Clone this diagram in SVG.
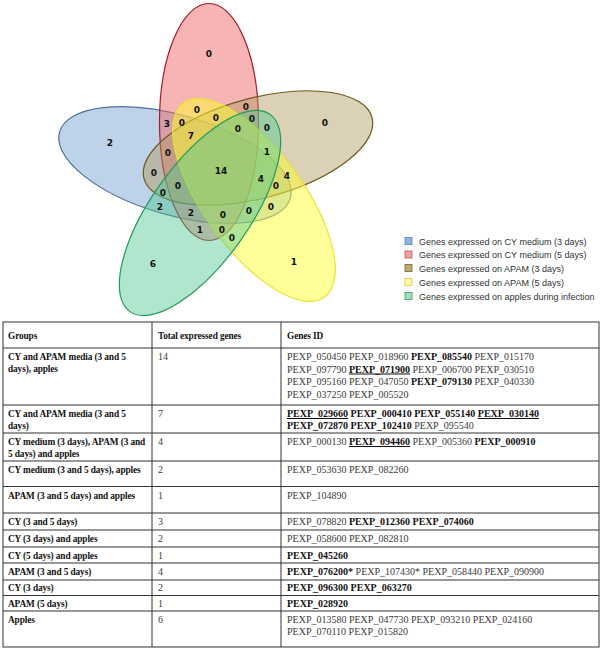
<svg xmlns="http://www.w3.org/2000/svg" width="602" height="650" viewBox="0 0 602 650">
<style>
.v{font-family:"DejaVu Sans",sans-serif;font-weight:bold;font-size:9px;text-anchor:middle;fill:#111}
.lg{font-family:"Liberation Sans",Arial,sans-serif;font-size:9px;fill:#333}
.t{font-family:"Liberation Serif","Times New Roman",serif;font-size:10px;fill:#3a3a3a}
.b{font-weight:bold;fill:#111}
.g{font-size:9.3px;letter-spacing:-0.1px}
.u{text-decoration:underline}
.ln{stroke:#333;stroke-width:1;fill:none}
</style>
<rect width="602" height="650" fill="#fff"/>
<g id="venn">
<ellipse id="set-cy3" cx="175" cy="165" rx="120" ry="50" transform="rotate(16 175 165)" fill="#6f9bd1" fill-opacity="0.45" stroke="#4f6f9a" stroke-width="1.2"/>
<ellipse id="set-cy5" cx="209" cy="122" rx="49.5" ry="118.5" fill="#f06a6a" fill-opacity="0.5" stroke="#a01c2c" stroke-width="1.2"/>
<ellipse id="set-apam3" cx="258" cy="148" rx="118" ry="50" transform="rotate(-15 258 148)" fill="#b09a5e" fill-opacity="0.45" stroke="#6e5a1e" stroke-width="1.2"/>
<ellipse id="set-apam5" cx="254" cy="200" rx="120" ry="50" transform="rotate(54 254 200)" fill="#ffff33" fill-opacity="0.5" stroke="#e6e633" stroke-width="1.2"/>
<ellipse id="set-apples" cx="200" cy="213" rx="121" ry="49" transform="rotate(125.4 200 213)" fill="#50c890" fill-opacity="0.45" stroke="#1f9a5a" stroke-width="1.2"/>
</g>
<g id="venn-labels">
<text class="v" x="209" y="57">0</text>
<text class="v" x="110" y="146">2</text>
<text class="v" x="325" y="126">0</text>
<text class="v" x="153" y="267">6</text>
<text class="v" x="294" y="265">1</text>
<text class="v" x="167" y="127">3</text>
<text class="v" x="182" y="126">0</text>
<text class="v" x="197" y="113">0</text>
<text class="v" x="216" y="121">0</text>
<text class="v" x="246" y="110">0</text>
<text class="v" x="252" y="122">0</text>
<text class="v" x="267" y="131">0</text>
<text class="v" x="238" y="132">0</text>
<text class="v" x="191" y="139">7</text>
<text class="v" x="168" y="156">0</text>
<text class="v" x="267" y="155">1</text>
<text class="v" x="221" y="174">14</text>
<text class="v" x="154" y="176">0</text>
<text class="v" x="261" y="182">4</text>
<text class="v" x="287" y="179">4</text>
<text class="v" x="178" y="189">0</text>
<text class="v" x="276" y="189">0</text>
<text class="v" x="163" y="196">0</text>
<text class="v" x="160" y="210">2</text>
<text class="v" x="191" y="216">2</text>
<text class="v" x="223" y="218">0</text>
<text class="v" x="249" y="214">0</text>
<text class="v" x="271" y="210">0</text>
<text class="v" x="200" y="233">1</text>
<text class="v" x="222" y="233">0</text>
<text class="v" x="232" y="241">0</text>
</g>
<g id="legend">
<rect x="405" y="237.5" width="7" height="7" fill="#8fb3df" stroke="#5a7fb0" stroke-width="0.8"/>
<text class="lg" x="419" y="244.5">Genes expressed on CY medium (3 days)</text>
<rect x="405" y="251" width="7" height="7" fill="#f3a0a6" stroke="#c0505a" stroke-width="0.8"/>
<text class="lg" x="419" y="258">Genes expressed on CY medium (5 days)</text>
<rect x="405" y="264.5" width="7" height="7" fill="#bfa872" stroke="#7a6530" stroke-width="0.8"/>
<text class="lg" x="419" y="271.5">Genes expressed on APAM (3 days)</text>
<rect x="405" y="278.5" width="7" height="7" fill="#fff6a8" stroke="#d8c850" stroke-width="0.8"/>
<text class="lg" x="419" y="285.5">Genes expressed on APAM (5 days)</text>
<rect x="405" y="292.5" width="7" height="7" fill="#9fe0bf" stroke="#3a9a6a" stroke-width="0.8"/>
<text class="lg" x="419" y="299.5">Genes expressed on apples during infection</text>
</g>
<g id="table">
<rect class="ln" x="3" y="322" width="596" height="325" stroke-width="1.3"/>
<path class="ln" d="M3 348H599M3 405H599M3 433H599M3 461H599M3 486.5H599M3 513H599M3 530H599M3 547H599M3 563H599M3 580H599M3 595.5H599M3 611H599M152 322V647M281 322V647"/>
<text class="t b g" x="8" y="339">Groups</text>
<text class="t b g" x="158" y="339">Total expressed genes</text>
<text class="t b g" x="287" y="339">Genes ID</text>

<text class="t b g" x="8" y="360">CY and APAM media (3 and 5</text>
<text class="t b g" x="8" y="372">days), apples</text>
<text class="t" x="158" y="360">14</text>
<text class="t" x="287" y="360">PEXP_050450 PEXP_018960 <tspan class="b">PEXP_085540</tspan> PEXP_015170</text>
<text class="t" x="287" y="372.5">PEXP_097790 <tspan class="b u">PEXP_071900</tspan> PEXP_006700 PEXP_030510</text>
<text class="t" x="287" y="385">PEXP_095160 PEXP_047050 <tspan class="b">PEXP_079130</tspan> PEXP_040330</text>
<text class="t" x="287" y="397.5">PEXP_037250 PEXP_005520</text>

<text class="t b g" x="8" y="417">CY and APAM media (3 and 5</text>
<text class="t b g" x="8" y="429">days)</text>
<text class="t" x="158" y="417">7</text>
<text class="t" x="287" y="417"><tspan class="b u">PEXP_029660</tspan> <tspan class="b">PEXP_000410</tspan> <tspan class="b">PEXP_055140</tspan> <tspan class="b u">PEXP_030140</tspan></text>
<text class="t" x="287" y="429"><tspan class="b">PEXP_072870</tspan> <tspan class="b">PEXP_102410</tspan> PEXP_095540</text>

<text class="t b g" x="8" y="445">CY medium (3 days), APAM (3 and</text>
<text class="t b g" x="8" y="457">5 days) and apples</text>
<text class="t" x="158" y="445">4</text>
<text class="t" x="287" y="445">PEXP_000130 <tspan class="b u">PEXP_094460</tspan> PEXP_005360 <tspan class="b">PEXP_000910</tspan></text>

<text class="t b g" x="8" y="473">CY medium (3 and 5 days), apples</text>
<text class="t" x="158" y="473">2</text>
<text class="t" x="287" y="473">PEXP_053630 PEXP_082260</text>

<text class="t b g" x="8" y="498.5">APAM (3 and 5 days) and apples</text>
<text class="t" x="158" y="498.5">1</text>
<text class="t" x="287" y="498.5">PEXP_104890</text>

<text class="t b g" x="8" y="525">CY (3 and 5 days)</text>
<text class="t" x="158" y="525">3</text>
<text class="t" x="287" y="525">PEXP_078820 <tspan class="b">PEXP_012360</tspan> <tspan class="b">PEXP_074060</tspan></text>

<text class="t b g" x="8" y="542">CY (3 days) and apples</text>
<text class="t" x="158" y="542">2</text>
<text class="t" x="287" y="542">PEXP_058600 PEXP_082810</text>

<text class="t b g" x="8" y="558.5">CY (5 days) and apples</text>
<text class="t" x="158" y="558.5">1</text>
<text class="t b" x="287" y="558.5">PEXP_045260</text>

<text class="t b g" x="8" y="575">APAM (3 and 5 days)</text>
<text class="t" x="158" y="575">4</text>
<text class="t" x="287" y="575"><tspan class="b">PEXP_076200*</tspan> PEXP_107430* PEXP_058440 PEXP_090900</text>

<text class="t b g" x="8" y="591">CY (3 days)</text>
<text class="t" x="158" y="591">2</text>
<text class="t b" x="287" y="591">PEXP_096300 PEXP_063270</text>

<text class="t b g" x="8" y="606.5">APAM (5 days)</text>
<text class="t" x="158" y="606.5">1</text>
<text class="t b" x="287" y="606.5">PEXP_028920</text>

<text class="t b g" x="8" y="623">Apples</text>
<text class="t" x="158" y="623">6</text>
<text class="t" x="287" y="623">PEXP_013580 PEXP_047730 PEXP_093210 PEXP_024160</text>
<text class="t" x="287" y="635">PEXP_070110 PEXP_015820</text>
</g>
</svg>
